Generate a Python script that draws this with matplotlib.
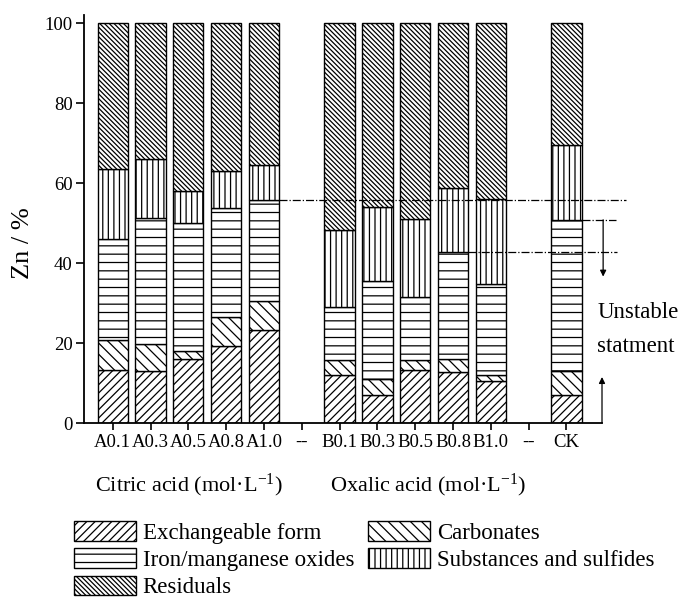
import matplotlib
matplotlib.use('Agg')
import matplotlib.pyplot as plt
import numpy as np

plt.rcParams['font.family'] = ['Liberation Serif', 'DejaVu Serif']
plt.rcParams['mathtext.fontset'] = 'custom'
plt.rcParams['mathtext.rm'] = 'Liberation Serif'
plt.rcParams['mathtext.it'] = 'Liberation Serif:italic'
plt.rcParams['hatch.linewidth'] = 0.9

# categories on the x axis ("--" are empty separator slots)
categories = ['A0.1', 'A0.3', 'A0.5', 'A0.8', 'A1.0', '--',
              'B0.1', 'B0.3', 'B0.5', 'B0.8', 'B1.0', '--', 'CK']
samples = ['A0.1', 'A0.3', 'A0.5', 'A0.8', 'A1.0',
           'B0.1', 'B0.3', 'B0.5', 'B0.8', 'B1.0', 'CK']

# fractions of Zn (%)
exchangeable = [13.2, 13.0, 16.0, 19.2, 23.3, 12.1, 6.9, 13.2, 12.8, 10.6, 6.9]
carbonates   = [7.6, 6.8, 2.0, 7.3, 7.3, 3.6, 4.1, 2.5, 3.2, 1.5, 6.2]
fe_mn_oxides = [25.2, 31.5, 32.0, 27.3, 25.1, 13.3, 24.6, 15.8, 26.8, 22.6, 37.7]
substances   = [17.6, 14.8, 8.0, 9.1, 8.9, 19.2, 18.5, 19.6, 15.9, 21.4, 18.7]
residuals    = [36.4, 33.9, 42.0, 37.1, 35.4, 51.8, 45.9, 48.9, 41.3, 43.9, 30.5]

fractions = ['Exchangeable form', 'Carbonates', 'Iron/manganese oxides',
             'Substances and sulfides', 'Residuals']
hatches = ['////', '\\' * 3, '--', '|||', '\\' * 7]

xpos = np.array([len(categories) - 1 if s == 'CK' else categories.index(s)
                 for s in samples])
series = [exchangeable, carbonates, fe_mn_oxides, substances, residuals]

fig = plt.figure(figsize=(6.8, 6.05), dpi=100)
ax = fig.add_axes([0.1235, 0.3008, 0.7618, 0.6744])

bottom = np.zeros(len(samples))
bars = []
for vals, name, h in zip(series, fractions, hatches):
    b = ax.bar(xpos, vals, width=0.8, bottom=bottom, color='white',
               edgecolor='black', linewidth=1.0, hatch=h, label=name)
    bars.append(b)
    bottom = bottom + np.array(vals)

ax.set_xlim(-0.76, 12.94)
ax.set_ylim(0, 102)
ax.set_yticks([0, 20, 40, 60, 80, 100])
ax.set_xticks(range(len(categories)))
ax.set_xticklabels(categories)
ax.tick_params(axis='y', direction='out', length=6, width=1.2, labelsize=13.5, pad=2)
ax.tick_params(axis='x', direction='out', length=5, width=1.2, labelsize=13.5, pad=3)
for s in ['top', 'right']:
    ax.spines[s].set_visible(False)
for s in ['left', 'bottom']:
    ax.spines[s].set_linewidth(1.3)

ax.set_ylabel('Zn / %', fontsize=19)
ax.yaxis.set_label_coords(-0.096, 0.44)

# reference lines (dash-dot) at the Fe/Mn oxide tops
cum_femn = np.array(exchangeable) + np.array(carbonates) + np.array(fe_mn_oxides)
i_a10 = samples.index('A1.0')
i_b08 = samples.index('B0.8')
i_ck = samples.index('CK')
ax.plot([xpos[i_a10] + 0.4, 13.58], [cum_femn[i_a10]] * 2, ls='-.', lw=0.9,
        color='black', clip_on=False)
ax.plot([xpos[i_b08] + 0.4, 13.34], [cum_femn[i_b08]] * 2, ls='-.', lw=0.9,
        color='black', clip_on=False)
ax.plot([xpos[i_ck] + 0.4, 13.32], [cum_femn[i_ck]] * 2, ls='-.', lw=0.9,
        color='black', clip_on=False)

# arrows
ax.annotate('', xy=(12.97, 36.6), xytext=(12.97, cum_femn[i_ck]),
            arrowprops=dict(arrowstyle='-|>', lw=0.9, color='black',
                            mutation_scale=9, shrinkA=0, shrinkB=0),
            annotation_clip=False)
ax.annotate('', xy=(12.94, 11.5), xytext=(12.94, 0),
            arrowprops=dict(arrowstyle='-|>', lw=0.9, color='black',
                            mutation_scale=9, shrinkA=0, shrinkB=0),
            annotation_clip=False)

ax.text(12.81, 27.6, 'Unstable', fontsize=16.5, ha='left', va='center', clip_on=False)
ax.text(12.81, 19.1, 'statment', fontsize=16.5, ha='left', va='center', clip_on=False)

# group labels
fig.text(95 / 680, 1 - 485 / 605, 'Citric acid (mol·L$^{\\mathregular{-1}}$)',
         fontsize=16, ha='left', va='center')
fig.text(330 / 680, 1 - 485 / 605, 'Oxalic acid (mol·L$^{\\mathregular{-1}}$)',
         fontsize=16, ha='left', va='center')

order = [0, 2, 4, 1, 3]
fig.legend([bars[i] for i in order], [fractions[i] for i in order],
           loc='upper left', bbox_to_anchor=(74 / 680, 1 - 521 / 605),
           ncol=2, frameon=False, fontsize=16.5, borderpad=0,
           handlelength=2.7, handleheight=0.95, handletextpad=0.3,
           labelspacing=0.2, columnspacing=0.6, borderaxespad=0)

fig.savefig('out.png', dpi=100)
